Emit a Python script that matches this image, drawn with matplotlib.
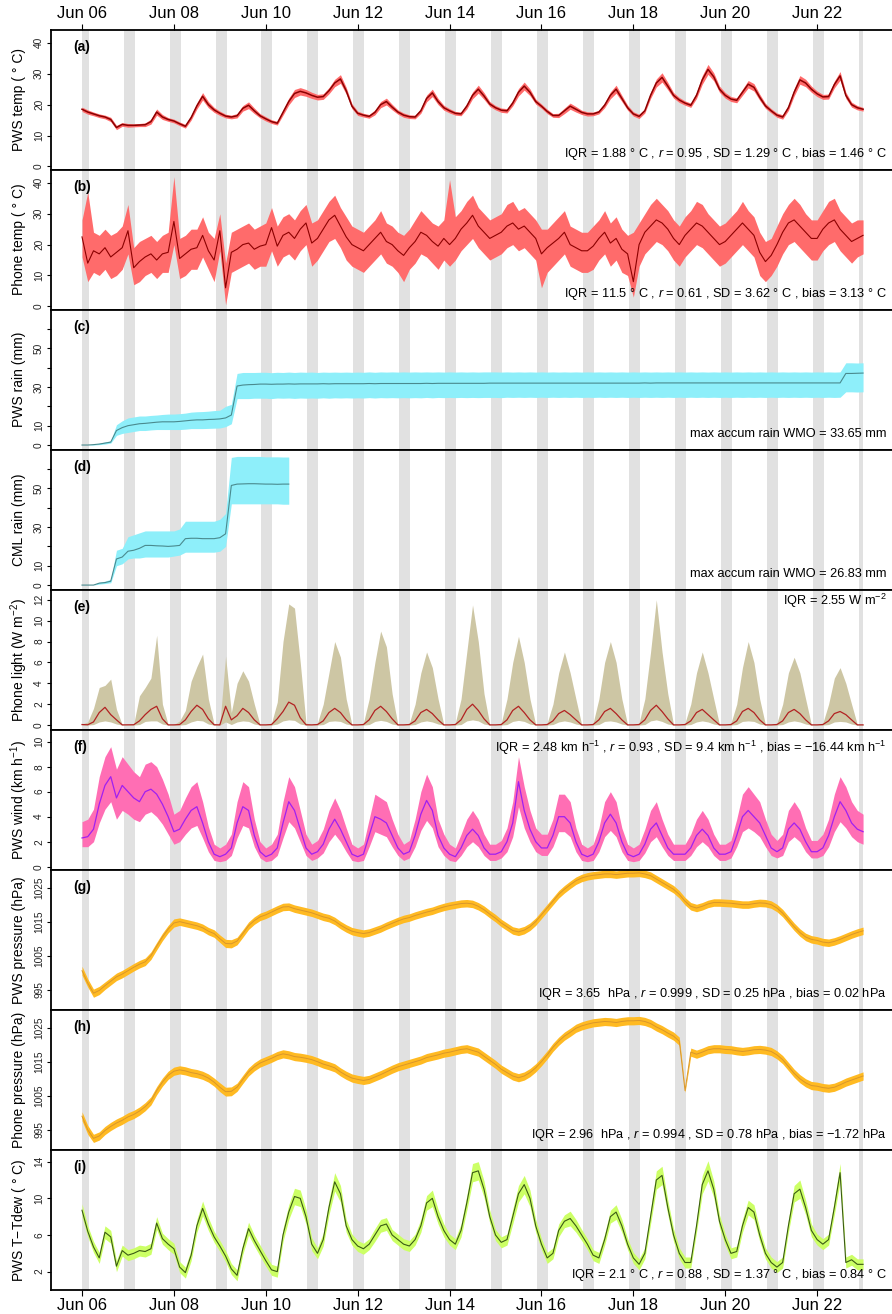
import numpy as np
import matplotlib.pyplot as plt
import matplotlib.dates as mdates
from datetime import datetime, timedelta

plt.rcParams['font.family'] = ['Liberation Sans', 'DejaVu Sans']
plt.rcParams['mathtext.fontset'] = 'custom'
plt.rcParams['mathtext.rm'] = 'Liberation Sans'
plt.rcParams['mathtext.it'] = 'Liberation Sans:italic'

# 3-hourly readings, Jun 06 00:00 .. Jun 23 00:00
start = datetime(2018, 6, 6)
times = mdates.date2num([start + timedelta(hours=3 * k) for k in range(137)])

# night shading (local time)
night_from_h = 21.75
night_to_h = 3.5

# (a) PWS temperature
a_mid = [18.5, 17.6, 17.0, 16.4, 16.0, 15.2, 12.6, 13.6,
         13.3, 13.3, 13.4, 13.5, 14.5, 17.6, 16.0, 15.2,
         14.7, 13.8, 13.0, 15.8, 19.6, 22.7, 20.0, 18.3,
         17.2, 16.3, 16.0, 16.4, 18.8, 19.8, 18.0, 16.4,
         15.4, 14.5, 14.0, 17.5, 21.0, 23.6, 24.3, 23.8,
         23.0, 22.4, 22.6, 24.5, 27.0, 28.3, 24.5, 19.5,
         17.2, 16.6, 16.2, 17.5, 20.0, 21.0, 19.2, 17.6,
         16.6, 16.1, 16.0, 18.0, 22.0, 23.8, 21.0, 19.0,
         18.0, 17.2, 17.0, 19.5, 23.0, 25.0, 22.8, 20.2,
         19.0, 18.2, 18.0, 20.5, 24.0, 26.0, 24.0, 21.0,
         19.5, 17.8, 16.5, 16.5, 18.0, 19.5, 18.5, 17.5,
         17.0, 17.0, 17.6, 19.8, 23.0, 25.0, 22.0, 19.0,
         17.0, 16.2, 18.0, 23.0, 27.0, 28.8, 26.0, 23.0,
         21.5, 20.5, 19.8, 23.0, 28.0, 31.4, 29.0, 25.0,
         23.0, 21.8, 21.4, 24.0, 26.6, 25.6, 22.4, 19.6,
         18.0, 16.6, 16.0, 19.0, 24.0, 28.0, 27.0, 25.0,
         23.5, 22.5, 22.6, 26.5, 29.3, 23.0, 20.0, 19.0,
         18.5]
a_sd = [0.7, 0.7, 0.6, 0.6, 0.6, 0.7, 0.7, 0.6,
        0.6, 0.5, 0.5, 0.6, 0.8, 1.0, 0.8, 0.6,
        0.6, 0.6, 0.6, 0.8, 1.0, 1.2, 1.0, 0.8,
        0.7, 0.6, 0.6, 0.7, 0.9, 1.1, 0.9, 0.7,
        0.7, 0.6, 0.6, 0.9, 1.1, 1.3, 1.2, 1.1,
        1.0, 0.9, 0.9, 1.0, 1.2, 1.4, 1.1, 0.8,
        0.7, 0.6, 0.6, 0.8, 1.0, 1.1, 0.9, 0.7,
        0.7, 0.6, 0.6, 0.8, 1.1, 1.2, 1.0, 0.8,
        0.7, 0.6, 0.6, 0.9, 1.1, 1.3, 1.1, 0.8,
        0.7, 0.7, 0.7, 0.9, 1.2, 1.3, 1.1, 0.8,
        0.7, 0.7, 0.6, 0.7, 0.9, 1.0, 0.9, 0.7,
        0.7, 0.6, 0.6, 0.8, 1.1, 1.3, 1.0, 0.8,
        0.7, 0.7, 0.7, 1.0, 1.3, 1.5, 1.2, 0.9,
        0.8, 0.7, 0.7, 1.0, 1.4, 1.6, 1.3, 1.0,
        0.9, 0.8, 0.8, 1.0, 1.2, 1.2, 1.0, 0.8,
        0.7, 0.7, 0.7, 0.9, 1.2, 1.4, 1.2, 1.0,
        0.9, 0.8, 0.8, 1.1, 1.4, 1.0, 0.8, 0.7,
        0.6]

# (b) phone temperature
b_mid = [22.5, 14.0, 18.0, 17.0, 19.0, 16.0, 17.5, 19.0,
         24.5, 12.5, 14.5, 16.0, 17.0, 15.0, 17.0, 17.5,
         27.5, 15.5, 17.0, 18.5, 19.0, 23.0, 18.0, 15.0,
         24.5, 6.0, 17.5, 18.5, 20.0, 20.5, 18.5, 19.5,
         20.0, 25.5, 19.5, 23.0, 24.0, 22.0, 25.0, 27.0,
         20.5, 22.0, 25.0, 28.0, 29.5, 26.0, 22.5, 20.0,
         19.0, 18.0, 20.0, 22.0, 24.0, 21.0, 20.0, 18.0,
         16.5, 19.0, 21.0, 24.0, 23.0, 21.0, 19.5, 22.0,
         20.0, 22.0, 25.0, 27.0, 29.5, 26.0, 24.0, 22.0,
         23.0, 24.0, 26.0, 27.0, 25.0, 26.0, 24.0, 22.0,
         17.0, 19.0, 20.5, 22.0, 24.0, 20.0, 19.0, 18.0,
         18.0, 19.5, 22.0, 24.0, 20.5, 22.0, 18.5, 17.0,
         8.0, 20.0, 24.0, 26.0, 28.0, 27.0, 25.0, 22.0,
         20.0, 23.0, 25.0, 27.0, 26.0, 24.0, 22.0, 20.0,
         21.0, 23.0, 25.0, 27.0, 25.0, 23.0, 17.5, 14.5,
         16.5, 20.0, 24.0, 27.0, 28.0, 26.0, 24.0, 22.0,
         22.0, 25.0, 27.0, 28.0, 25.0, 23.0, 21.0, 22.0,
         23.0]
b_lo = [16, 8, 11, 10, 12, 9, 10, 12,
        17, 7, 8, 10, 11, 9, 11, 11,
        20, 9, 10, 12, 12, 16, 12, 8,
        18, 0.5, 11, 12, 13, 14, 12, 13,
        13, 18, 13, 16, 17, 15, 18, 20,
        13, 15, 18, 21, 22, 19, 15, 13,
        12, 11, 13, 15, 17, 14, 13, 11,
        8, 12, 14, 17, 16, 14, 12, 15,
        13, 15, 18, 20, 22, 19, 17, 15,
        16, 17, 19, 20, 18, 19, 17, 15,
        6, 11, 13, 15, 17, 13, 12, 11,
        11, 12, 15, 17, 13, 15, 11, 10,
        3, 13, 17, 19, 21, 20, 18, 15,
        13, 16, 18, 20, 19, 17, 15, 13,
        14, 16, 18, 20, 18, 16, 10, 8,
        10, 13, 17, 20, 21, 19, 17, 15,
        15, 18, 20, 21, 18, 16, 14, 16,
        17]
b_hi = [28, 37, 24, 23, 25, 23, 24, 26,
        33, 19, 21, 22, 23, 21, 23, 24,
        42, 22, 23, 25, 25, 29, 24, 22,
        30, 14, 24, 25, 26, 27, 25, 26,
        27, 32, 26, 29, 30, 28, 31, 33,
        27, 28, 31, 34, 36, 32, 29, 26,
        25, 24, 26, 28, 31, 27, 26, 24,
        23, 25, 28, 31, 29, 27, 26, 28,
        41, 29, 31, 34, 36, 32, 30, 28,
        29, 30, 33, 34, 31, 32, 30, 28,
        25, 25, 27, 29, 31, 26, 25, 24,
        24, 26, 28, 31, 27, 29, 25, 23,
        24, 27, 30, 33, 35, 33, 31, 28,
        26, 29, 31, 34, 33, 30, 28, 26,
        27, 29, 31, 34, 31, 29, 24, 21,
        22, 26, 30, 33, 35, 33, 30, 28,
        28, 31, 34, 35, 31, 29, 27, 28,
        28]

# (c) PWS accumulated rain
c_mid = [0.0, 0.0, 0.2, 0.5, 1.0, 1.5, 7.5, 9.0,
         10.0, 10.5, 11.0, 11.2, 11.5, 11.8, 12.0, 12.0,
         12.0, 12.2, 12.5, 12.8, 13.0, 13.0, 13.2, 13.3,
         13.5, 14.0, 15.5, 30.5, 31.0, 31.2, 31.3, 31.5,
         31.5, 31.4, 31.5, 31.5, 31.6, 31.5, 31.6, 31.6,
         31.6, 31.6, 31.7, 31.6, 31.7, 31.7, 31.7, 31.7,
         31.7, 31.7, 31.8, 31.7, 31.8, 31.8, 31.8, 31.8,
         31.8, 31.8, 31.8, 31.8, 31.9, 31.8, 31.9, 31.9,
         31.9, 31.9, 31.9, 31.9, 31.9, 31.9, 31.9, 32.0,
         32.0, 32.0, 32.0, 32.0, 32.0, 32.0, 32.0, 32.0,
         32.0, 32.0, 32.0, 32.0, 32.0, 32.0, 32.0, 32.0,
         32.0, 32.0, 32.0, 32.0, 32.0, 32.0, 32.0, 32.0,
         32.0, 32.0, 32.1, 32.0, 32.1, 32.1, 32.1, 32.1,
         32.1, 32.1, 32.1, 32.1, 32.1, 32.1, 32.1, 32.1,
         32.1, 32.1, 32.1, 32.1, 32.1, 32.1, 32.1, 32.1,
         32.1, 32.1, 32.1, 32.1, 32.1, 32.1, 32.1, 32.1,
         32.1, 32.1, 32.1, 32.1, 32.1, 37.0, 37.0, 37.1,
         37.2]
c_lo = [0.0, 0.0, 0.0, 0.2, 0.5, 1.0, 5.0, 6.0,
        6.5, 7.0, 7.5, 7.5, 7.8, 8.0, 8.0, 8.0,
        8.0, 8.0, 8.2, 8.5, 8.5, 8.5, 8.6, 8.7,
        8.8, 9.5, 11.0, 24.0, 24.0, 24.0, 24.2, 24.2,
        24.2, 24.0, 24.3, 24.2, 24.3, 24.1, 24.3, 24.2,
        24.3, 24.2, 24.4, 24.2, 24.4, 24.3, 24.4, 24.3,
        24.4, 24.3, 24.5, 24.3, 24.5, 24.4, 24.5, 24.4,
        24.5, 24.4, 24.5, 24.4, 24.6, 24.4, 24.6, 24.5,
        24.6, 24.5, 24.6, 24.5, 24.6, 24.5, 24.6, 24.6,
        24.6, 24.5, 24.7, 24.6, 24.7, 24.6, 24.7, 24.6,
        24.7, 24.6, 24.7, 24.6, 24.7, 24.6, 24.7, 24.6,
        24.7, 24.6, 24.7, 24.6, 24.7, 24.6, 24.7, 24.6,
        24.7, 24.6, 24.7, 24.6, 24.7, 24.6, 24.7, 24.6,
        24.7, 24.6, 24.7, 24.6, 24.7, 24.6, 24.7, 24.6,
        24.7, 24.6, 24.7, 24.6, 24.7, 24.6, 24.7, 24.6,
        24.7, 24.6, 24.7, 24.6, 24.7, 24.6, 24.7, 24.6,
        24.7, 24.6, 24.7, 24.6, 24.7, 27.5, 27.5, 27.4,
        27.5]
c_hi = [0.0, 0.0, 0.4, 0.9, 1.6, 2.2, 10.5, 12.5,
        14.0, 14.5, 15.0, 15.0, 15.3, 15.5, 15.8, 16.0,
        16.0, 16.2, 16.5, 17.0, 17.2, 17.3, 17.5, 17.8,
        18.0, 20.0, 21.0, 37.0, 37.5, 37.5, 37.5, 37.6,
        37.6, 37.4, 37.6, 37.5, 37.7, 37.5, 37.7, 37.6,
        37.7, 37.5, 37.7, 37.6, 37.7, 37.6, 37.7, 37.6,
        37.7, 37.6, 37.8, 37.6, 37.8, 37.7, 37.8, 37.7,
        37.8, 37.7, 37.8, 37.7, 37.8, 37.7, 37.8, 37.7,
        37.8, 37.7, 37.8, 37.7, 37.8, 37.7, 37.8, 37.8,
        37.8, 37.7, 37.8, 37.7, 37.8, 37.7, 37.8, 37.7,
        37.8, 37.7, 37.8, 37.7, 37.8, 37.7, 37.8, 37.7,
        37.8, 37.7, 37.8, 37.7, 37.8, 37.7, 37.8, 37.7,
        37.8, 37.7, 37.8, 37.7, 37.8, 37.7, 37.8, 37.7,
        37.8, 37.7, 37.8, 37.7, 37.8, 37.7, 37.8, 37.7,
        37.8, 37.7, 37.8, 37.7, 37.8, 37.7, 37.8, 37.7,
        37.8, 37.7, 37.8, 37.7, 37.8, 37.7, 37.8, 37.7,
        37.8, 37.7, 37.8, 37.7, 37.8, 42.5, 42.5, 42.4,
        42.5]

# (d) CML accumulated rain (stops on Jun 10)
d_mid = [0.0, 0.0, 0.0, 1.0, 1.3, 2.0, 13.5, 14.5,
         17.5, 18.0, 19.0, 20.5, 20.5, 20.3, 20.2, 20.0,
         20.2, 20.5, 24.0, 24.2, 24.2, 24.0, 24.0, 24.0,
         24.5, 26.5, 51.5, 52.2, 52.3, 52.4, 52.4, 52.3,
         52.2, 52.2, 52.1, 52.2, 52.2]
d_lo = [0.0, 0.0, 0.0, 0.5, 0.8, 1.2, 10.0, 11.0,
        13.5, 14.0, 14.0, 14.5, 14.5, 14.5, 14.5, 14.5,
        15.0, 15.5, 17.0, 17.0, 17.0, 17.0, 17.0, 17.0,
        17.5, 20.0, 42.0, 42.0, 42.0, 42.0, 42.0, 42.0,
        42.0, 42.0, 42.0, 41.8, 41.8]
d_hi = [0.0, 0.0, 0.0, 1.5, 2.0, 3.0, 18.0, 19.0,
        25.0, 26.0, 27.0, 28.0, 28.0, 28.0, 28.0, 28.0,
        28.0, 29.0, 33.0, 33.0, 33.0, 33.0, 33.0, 33.0,
        34.0, 37.0, 66.0, 66.5, 66.5, 66.5, 66.5, 66.5,
        66.3, 66.3, 66.3, 66.2, 66.2]

# (e) phone light
e_mid = [0.05, 0.03, 0.30, 1.20, 1.70, 1.00, 0.50, 0.02,
         0.02, 0.03, 0.40, 1.00, 1.50, 1.80, 0.60, 0.02,
         0.02, 0.05, 0.50, 1.30, 1.90, 1.50, 0.60, 0.03,
         0.02, 1.80, 0.50, 0.90, 1.60, 1.20, 0.50, 0.02,
         0.02, 0.05, 0.60, 1.30, 2.20, 1.90, 0.70, 0.03,
         0.02, 0.05, 0.40, 1.20, 1.60, 1.20, 0.50, 0.02,
         0.02, 0.05, 0.50, 1.40, 1.80, 1.30, 0.60, 0.02,
         0.02, 0.05, 0.40, 1.20, 1.50, 1.10, 0.50, 0.02,
         0.02, 0.05, 0.50, 1.50, 2.00, 1.40, 0.60, 0.02,
         0.02, 0.05, 0.50, 1.40, 1.80, 1.20, 0.50, 0.02,
         0.02, 0.05, 0.40, 1.10, 1.40, 1.00, 0.50, 0.02,
         0.02, 0.05, 0.50, 1.30, 1.60, 1.10, 0.50, 0.02,
         0.02, 0.05, 0.50, 1.40, 1.90, 1.30, 0.60, 0.02,
         0.02, 0.05, 0.40, 1.20, 1.50, 1.00, 0.50, 0.02,
         0.02, 0.05, 0.40, 1.30, 1.60, 1.20, 0.50, 0.02,
         0.02, 0.05, 0.40, 1.20, 1.50, 1.10, 0.50, 0.02,
         0.02, 0.05, 0.40, 1.10, 1.30, 1.00, 0.50, 0.02,
         0.02]
e_lo = [0.0, 0.0, 0.05, 0.30, 0.40, 0.30, 0.10, 0.0,
        0.0, 0.0, 0.05, 0.35, 0.40, 0.40, 0.10, 0.0,
        0.0, 0.0, 0.05, 0.30, 0.45, 0.40, 0.10, 0.0,
        0.0, 0.30, 0.05, 0.30, 0.40, 0.35, 0.10, 0.0,
        0.0, 0.0, 0.10, 0.40, 0.50, 0.45, 0.10, 0.0,
        0.0, 0.0, 0.05, 0.35, 0.40, 0.35, 0.10, 0.0,
        0.0, 0.0, 0.05, 0.35, 0.45, 0.35, 0.10, 0.0,
        0.0, 0.0, 0.05, 0.30, 0.40, 0.30, 0.10, 0.0,
        0.0, 0.0, 0.05, 0.40, 0.50, 0.40, 0.10, 0.0,
        0.0, 0.0, 0.05, 0.35, 0.45, 0.35, 0.10, 0.0,
        0.0, 0.0, 0.05, 0.30, 0.40, 0.30, 0.10, 0.0,
        0.0, 0.0, 0.05, 0.35, 0.40, 0.30, 0.10, 0.0,
        0.0, 0.0, 0.05, 0.40, 0.50, 0.35, 0.10, 0.0,
        0.0, 0.0, 0.05, 0.30, 0.40, 0.30, 0.10, 0.0,
        0.0, 0.0, 0.05, 0.35, 0.40, 0.35, 0.10, 0.0,
        0.0, 0.0, 0.05, 0.30, 0.40, 0.30, 0.10, 0.0,
        0.0, 0.0, 0.05, 0.30, 0.35, 0.30, 0.10, 0.0,
        0.0]
e_hi = [0.10, 0.30, 1.60, 3.60, 3.80, 4.40, 1.50, 0.05,
        0.05, 0.10, 2.80, 3.60, 4.50, 8.60, 2.00, 0.05,
        0.05, 0.40, 1.40, 4.20, 5.60, 6.80, 2.50, 0.10,
        0.05, 6.60, 1.20, 4.00, 5.20, 4.20, 2.00, 0.05,
        0.05, 0.20, 2.20, 8.00, 11.6, 11.2, 6.00, 0.20,
        0.05, 0.20, 2.00, 5.00, 8.00, 6.50, 2.50, 0.05,
        0.05, 0.20, 2.50, 6.00, 9.00, 7.50, 3.00, 0.05,
        0.05, 0.20, 2.00, 5.00, 7.00, 5.50, 2.50, 0.05,
        0.05, 0.20, 2.50, 7.00, 11.5, 8.00, 3.00, 0.05,
        0.05, 0.20, 2.50, 6.00, 8.50, 6.00, 2.50, 0.05,
        0.05, 0.20, 2.00, 5.00, 7.00, 5.00, 2.50, 0.05,
        0.05, 0.20, 2.50, 6.00, 8.00, 6.00, 2.50, 0.05,
        0.05, 0.20, 2.50, 7.00, 12.0, 7.00, 3.00, 0.05,
        0.05, 0.20, 2.00, 5.00, 7.00, 5.00, 2.50, 0.05,
        0.05, 0.20, 2.00, 5.50, 8.00, 6.00, 2.50, 0.05,
        0.05, 0.20, 2.00, 5.00, 6.50, 5.00, 2.50, 0.05,
        0.05, 0.20, 2.00, 4.50, 5.50, 4.00, 2.00, 0.05,
        0.05]

# (f) PWS wind
f_mid = [2.3, 2.4, 3.0, 5.0, 6.5, 7.2, 5.5, 6.5,
         6.0, 5.5, 5.2, 6.0, 6.2, 5.8, 5.0, 4.0,
         2.8, 3.0, 3.8, 4.5, 4.8, 3.5, 2.0, 1.0,
         0.8, 1.0, 1.5, 3.5, 4.8, 4.5, 2.5, 1.2,
         0.8, 1.0, 1.5, 3.5, 5.2, 4.5, 3.0, 1.5,
         1.0, 1.2, 1.8, 3.0, 3.8, 3.0, 2.0, 1.0,
         0.8, 1.0, 2.5, 4.0, 3.8, 3.5, 2.5, 1.5,
         1.0, 1.2, 2.5, 4.2, 5.3, 4.5, 2.5, 1.5,
         1.0, 0.8, 1.5, 2.5, 3.0, 2.5, 1.5, 1.0,
         1.0, 1.2, 2.0, 3.5, 6.8, 4.5, 3.0, 2.0,
         1.5, 1.5, 2.5, 4.0, 4.0, 3.5, 2.0, 1.0,
         0.8, 1.0, 2.0, 3.5, 4.2, 3.5, 2.0, 1.0,
         0.8, 1.0, 1.8, 3.0, 3.5, 2.5, 1.5, 1.0,
         1.0, 1.0, 1.5, 2.5, 3.0, 2.5, 1.5, 1.0,
         1.0, 1.2, 2.5, 4.0, 4.5, 4.0, 3.5, 2.5,
         1.5, 1.2, 1.5, 3.0, 3.5, 3.0, 2.0, 1.2,
         1.2, 1.5, 2.5, 4.0, 5.2, 4.5, 3.5, 3.0,
         2.8]
f_lo = [1.6, 1.6, 2.0, 3.5, 4.6, 5.2, 3.8, 4.5,
        4.2, 3.8, 3.6, 4.2, 4.4, 4.0, 3.4, 2.6,
        1.8, 2.0, 2.6, 3.1, 3.3, 2.3, 1.2, 0.5,
        0.4, 0.5, 0.9, 2.3, 3.3, 3.1, 1.6, 0.7,
        0.4, 0.5, 0.9, 2.3, 3.6, 3.1, 2.0, 0.9,
        0.5, 0.7, 1.1, 2.0, 2.6, 2.0, 1.2, 0.5,
        0.4, 0.5, 1.6, 2.8, 2.6, 2.4, 1.6, 0.9,
        0.5, 0.7, 1.6, 2.9, 3.7, 3.1, 1.6, 0.9,
        0.5, 0.4, 0.9, 1.6, 2.0, 1.6, 0.9, 0.5,
        0.5, 0.7, 1.2, 2.4, 4.8, 3.1, 2.0, 1.2,
        0.9, 0.9, 1.6, 2.8, 2.8, 2.4, 1.2, 0.5,
        0.4, 0.5, 1.2, 2.4, 2.9, 2.4, 1.2, 0.5,
        0.4, 0.5, 1.1, 2.0, 2.4, 1.6, 0.9, 0.5,
        0.5, 0.5, 0.9, 1.6, 2.0, 1.6, 0.9, 0.5,
        0.5, 0.7, 1.6, 2.8, 3.1, 2.8, 2.4, 1.6,
        0.9, 0.7, 0.9, 2.0, 2.4, 2.0, 1.2, 0.7,
        0.7, 0.9, 1.6, 2.8, 3.6, 3.1, 2.4, 2.0,
        1.8]
f_hi = [3.6, 3.8, 4.6, 7.2, 8.8, 9.6, 7.8, 8.8,
        8.2, 7.6, 7.2, 8.2, 8.4, 8.0, 7.0, 5.8,
        4.2, 4.5, 5.5, 6.4, 6.8, 5.2, 3.2, 1.8,
        1.5, 1.8, 2.6, 5.2, 6.8, 6.4, 3.8, 2.0,
        1.5, 1.8, 2.6, 5.2, 7.2, 6.4, 4.5, 2.6,
        1.8, 2.1, 3.0, 4.5, 5.5, 4.5, 3.1, 1.8,
        1.5, 1.8, 3.8, 5.8, 5.5, 5.2, 3.8, 2.6,
        1.8, 2.1, 3.8, 6.0, 7.4, 6.4, 3.8, 2.6,
        1.8, 1.5, 2.6, 3.8, 4.5, 3.8, 2.6, 1.8,
        1.8, 2.1, 3.1, 5.2, 8.8, 6.4, 4.5, 3.1,
        2.6, 2.6, 3.8, 5.8, 5.8, 5.2, 3.1, 1.8,
        1.5, 1.8, 3.1, 5.2, 6.0, 5.2, 3.1, 1.8,
        1.5, 1.8, 3.0, 4.5, 5.2, 3.8, 2.6, 1.8,
        1.8, 1.8, 2.6, 3.8, 4.5, 3.8, 2.6, 1.8,
        1.8, 2.1, 3.8, 5.8, 6.4, 5.8, 5.2, 3.8,
        2.6, 2.1, 2.6, 4.5, 5.2, 4.5, 3.1, 2.1,
        2.1, 2.6, 3.8, 5.8, 7.2, 6.4, 5.2, 4.5,
        4.2]

# (g) PWS pressure
g_mid = [1000.6, 997.0, 994.0, 994.8, 996.2, 997.5, 998.8, 999.6,
         1000.6, 1001.6, 1002.5, 1003.2, 1005.0, 1007.8, 1010.5, 1012.8,
         1014.6, 1015.0, 1014.6, 1014.2, 1013.8, 1013.2, 1012.2, 1011.5,
         1010.0, 1008.6, 1008.5, 1009.3, 1011.5, 1013.8, 1015.3, 1016.4,
         1017.0, 1017.8, 1018.6, 1019.3, 1019.4, 1018.8, 1018.4, 1018.0,
         1017.6, 1017.0, 1016.4, 1016.0, 1015.2, 1014.0, 1013.0, 1012.2,
         1011.8, 1011.5, 1011.8, 1012.4, 1013.0, 1013.8, 1014.5, 1015.2,
         1015.8, 1016.2, 1016.8, 1017.3, 1017.8, 1018.2, 1018.8, 1019.3,
         1019.7, 1020.0, 1020.3, 1020.4, 1020.2, 1019.5, 1018.5, 1017.2,
         1016.0, 1014.6, 1013.5, 1012.4, 1012.0, 1012.5, 1013.5, 1015.0,
         1017.0, 1019.0, 1021.0, 1023.0, 1024.5, 1025.8, 1027.0, 1027.8,
         1028.3, 1028.6, 1028.8, 1029.0, 1029.0, 1028.8, 1029.0, 1029.2,
         1029.2, 1029.3, 1029.0, 1028.5, 1027.5, 1026.5, 1025.5, 1024.5,
         1023.0, 1021.0, 1019.5, 1019.0, 1019.5, 1020.2, 1020.6, 1020.6,
         1020.5, 1020.4, 1020.2, 1020.0, 1020.0, 1020.3, 1020.5, 1020.4,
         1020.0, 1019.0, 1017.5, 1015.5, 1013.5, 1011.8, 1010.5, 1009.8,
         1009.5, 1009.0, 1008.8, 1009.2, 1009.8, 1010.5, 1011.2, 1011.8,
         1012.3]
g_sd = [1.3, 1.2, 1.2, 1.2, 1.1, 1.1, 1.1, 1.1,
        1.1, 1.1, 1.1, 1.1, 1.1, 1.1, 1.1, 1.1,
        1.2, 1.1, 1.1, 1.1, 1.1, 1.1, 1.1, 1.1,
        1.1, 1.2, 1.2, 1.1, 1.1, 1.1, 1.1, 1.1,
        1.1, 1.1, 1.1, 1.1, 1.1, 1.1, 1.1, 1.1,
        1.1, 1.1, 1.1, 1.1, 1.1, 1.1, 1.1, 1.1,
        1.1, 1.1, 1.1, 1.1, 1.1, 1.1, 1.1, 1.1,
        1.1, 1.1, 1.1, 1.1, 1.1, 1.1, 1.1, 1.1,
        1.1, 1.1, 1.1, 1.1, 1.1, 1.1, 1.1, 1.1,
        1.1, 1.1, 1.1, 1.1, 1.1, 1.1, 1.1, 1.1,
        1.1, 1.1, 1.1, 1.1, 1.1, 1.1, 1.1, 1.1,
        1.1, 1.1, 1.1, 1.1, 1.1, 1.1, 1.1, 1.1,
        1.1, 1.1, 1.1, 1.1, 1.1, 1.1, 1.1, 1.1,
        1.1, 1.1, 1.1, 1.1, 1.1, 1.1, 1.1, 1.1,
        1.1, 1.1, 1.1, 1.1, 1.1, 1.1, 1.1, 1.1,
        1.1, 1.1, 1.1, 1.1, 1.1, 1.1, 1.1, 1.1,
        1.1, 1.1, 1.1, 1.1, 1.1, 1.1, 1.1, 1.1,
        1.1]

# (h) phone pressure
h_mid = [999.0, 995.0, 992.5, 993.2, 994.8, 996.0, 997.0, 997.8,
         998.8, 999.5, 1000.5, 1001.8, 1003.5, 1006.5, 1009.0, 1011.0,
         1012.2, 1012.6, 1012.3, 1011.8, 1011.5, 1011.0, 1010.2, 1009.0,
         1007.5, 1006.2, 1006.3, 1007.5, 1009.8, 1012.0, 1013.5, 1014.6,
         1015.3, 1016.0, 1016.8, 1017.3, 1017.0, 1016.5, 1016.3, 1016.0,
         1015.6, 1015.0, 1014.3, 1013.8, 1013.2, 1012.0, 1011.0, 1010.2,
         1009.8, 1009.5, 1009.8, 1010.5, 1011.2, 1012.0, 1012.8, 1013.5,
         1014.0, 1014.5, 1015.0, 1015.5, 1016.2, 1016.6, 1017.0, 1017.5,
         1017.8, 1018.2, 1018.6, 1018.8, 1018.3, 1017.8, 1016.6, 1015.4,
         1014.2, 1012.8, 1011.8, 1010.8, 1010.3, 1010.8, 1011.8, 1013.2,
         1015.0, 1017.0, 1019.2, 1021.0, 1022.5, 1023.6, 1024.8, 1025.5,
         1026.0, 1026.4, 1026.6, 1026.8, 1026.7, 1026.5, 1026.8, 1027.0,
         1027.0, 1027.1, 1026.8, 1026.2, 1025.2, 1024.4, 1023.4, 1022.5,
         1021.0, 1006.5, 1017.8, 1017.2, 1017.8, 1018.5, 1018.8, 1018.8,
         1018.6, 1018.5, 1018.2, 1018.0, 1018.2, 1018.5, 1018.6, 1018.4,
         1018.0, 1017.0, 1015.6, 1013.6, 1011.6, 1010.0, 1008.8, 1008.0,
         1007.8, 1007.4, 1007.2, 1007.5, 1008.2, 1009.0, 1009.6, 1010.2,
         1010.8]
h_sd = [1.3, 1.3, 1.2, 1.2, 1.2, 1.2, 1.2, 1.2,
        1.2, 1.2, 1.2, 1.2, 1.2, 1.2, 1.2, 1.2,
        1.2, 1.2, 1.2, 1.2, 1.2, 1.2, 1.2, 1.2,
        1.3, 1.3, 1.3, 1.2, 1.2, 1.2, 1.2, 1.2,
        1.2, 1.2, 1.2, 1.2, 1.2, 1.2, 1.2, 1.2,
        1.2, 1.2, 1.2, 1.2, 1.2, 1.2, 1.2, 1.2,
        1.2, 1.2, 1.2, 1.2, 1.2, 1.2, 1.2, 1.2,
        1.2, 1.2, 1.2, 1.2, 1.2, 1.2, 1.2, 1.2,
        1.2, 1.2, 1.2, 1.2, 1.2, 1.2, 1.2, 1.2,
        1.2, 1.2, 1.2, 1.2, 1.2, 1.2, 1.2, 1.2,
        1.2, 1.2, 1.2, 1.2, 1.2, 1.2, 1.2, 1.2,
        1.2, 1.2, 1.2, 1.2, 1.2, 1.2, 1.2, 1.2,
        1.2, 1.2, 1.2, 1.2, 1.2, 1.2, 1.2, 1.2,
        1.2, 0.5, 1.2, 1.2, 1.2, 1.2, 1.2, 1.2,
        1.2, 1.2, 1.2, 1.2, 1.2, 1.2, 1.2, 1.2,
        1.2, 1.2, 1.2, 1.2, 1.2, 1.2, 1.2, 1.2,
        1.2, 1.2, 1.2, 1.2, 1.2, 1.2, 1.2, 1.2,
        1.2]

# (i) PWS T - Tdew
i_mid = [8.7, 6.4, 4.7, 3.5, 6.3, 5.8, 2.6, 4.3,
         3.8, 4.0, 4.3, 4.2, 4.5, 7.3, 5.6, 5.0,
         4.5, 2.5, 1.9, 3.8, 7.0, 8.9, 7.2, 5.8,
         4.8, 3.7, 2.3, 1.6, 4.5, 6.7, 5.4, 4.3,
         3.2, 2.2, 2.0, 6.0, 8.5, 10.2, 10.0, 8.0,
         5.0, 4.0, 5.5, 9.0, 11.8, 10.5, 7.0, 5.5,
         4.8, 4.5, 5.0, 6.0, 7.0, 7.2, 6.0, 5.5,
         5.0, 4.8, 5.5, 7.0, 9.5, 10.0, 8.0, 6.5,
         5.5, 5.0, 6.5, 9.5, 12.8, 13.0, 11.0, 8.0,
         6.0, 5.2, 5.5, 8.0, 10.5, 11.5, 10.0, 7.0,
         5.0, 3.5, 4.0, 6.5, 7.5, 7.8, 7.0, 6.0,
         5.0, 3.8, 3.5, 5.5, 8.0, 8.5, 7.0, 5.0,
         3.5, 2.8, 4.0, 8.0, 12.0, 12.5, 9.0, 6.0,
         4.0, 3.0, 3.0, 7.0, 11.5, 13.0, 11.0, 7.5,
         5.5, 4.0, 4.2, 7.0, 9.0, 8.5, 6.0, 4.0,
         3.0, 2.5, 3.0, 7.0, 10.5, 11.0, 9.0, 6.5,
         5.5, 5.0, 5.5, 9.0, 12.8, 3.0, 3.3, 2.8,
         2.8]
i_sd = [0.7, 0.6, 0.6, 0.6, 0.7, 0.7, 0.6, 0.6,
        0.6, 0.6, 0.6, 0.6, 0.6, 0.7, 0.6, 0.6,
        0.6, 0.6, 0.6, 0.6, 0.7, 0.8, 0.7, 0.6,
        0.6, 0.6, 0.6, 0.6, 0.6, 0.7, 0.6, 0.6,
        0.6, 0.6, 0.6, 0.7, 0.8, 0.9, 0.9, 0.8,
        0.7, 0.6, 0.7, 0.8, 1.0, 0.9, 0.7, 0.6,
        0.6, 0.6, 0.6, 0.7, 0.7, 0.7, 0.6, 0.6,
        0.6, 0.6, 0.6, 0.7, 0.8, 0.9, 0.8, 0.7,
        0.6, 0.6, 0.7, 0.8, 1.0, 1.0, 0.9, 0.7,
        0.6, 0.6, 0.6, 0.8, 0.9, 1.0, 0.9, 0.7,
        0.6, 0.6, 0.6, 0.7, 0.7, 0.8, 0.7, 0.6,
        0.6, 0.6, 0.6, 0.6, 0.7, 0.8, 0.7, 0.6,
        0.6, 0.6, 0.6, 0.8, 1.0, 1.0, 0.8, 0.7,
        0.6, 0.6, 0.6, 0.7, 1.0, 1.1, 0.9, 0.7,
        0.6, 0.6, 0.6, 0.7, 0.8, 0.8, 0.7, 0.6,
        0.6, 0.6, 0.6, 0.7, 0.9, 1.0, 0.8, 0.7,
        0.6, 0.6, 0.6, 0.8, 1.0, 0.6, 0.6, 0.6,
        0.6]

ylabels = ['PWS temp ( ° C)', 'Phone temp ( ° C)', 'PWS rain (mm)', 'CML rain (mm)',
           'Phone light (W m$^{-2}$)', 'PWS wind (km h$^{-1}$)', 'PWS pressure (hPa)',
           'Phone pressure (hPa)', 'PWS T$-$Tdew ( ° C)']
stats = ['IQR = 1.88 ° C , $r$ = 0.95 , SD = 1.29 ° C , bias = 1.46 ° C',
         'IQR = 11.5 ° C , $r$ = 0.61 , SD = 3.62 ° C , bias = 3.13 ° C',
         'max accum rain WMO = 33.65 mm',
         'max accum rain WMO = 26.83 mm',
         'IQR = 2.55 W m$^{-2}$',
         'IQR = 2.48 km h$^{-1}$ , $r$ = 0.93 , SD = 9.4 km h$^{-1}$ , bias = $-$16.44 km h$^{-1}$',
         'IQR = 3.65  hPa , $r$ = 0.999 , SD = 0.25 hPa , bias = 0.02 hPa',
         'IQR = 2.96  hPa , $r$ = 0.994 , SD = 0.78 hPa , bias = $-$1.72 hPa',
         'IQR = 2.1 ° C , $r$ = 0.88 , SD = 1.37 ° C , bias = 0.84 ° C']

a_mid, a_sd = np.array(a_mid), np.array(a_sd)
g_mid, g_sd = np.array(g_mid), np.array(g_sd)
h_mid, h_sd = np.array(h_mid), np.array(h_sd)
i_mid, i_sd = np.array(i_mid), np.array(i_sd)

# (mid, lo, hi, band colour, line colour, line width)
panels = [
    (a_mid, a_mid - a_sd, a_mid + a_sd, '#ff6b6b', '#8b0000', 1.1),
    (b_mid, b_lo, b_hi, '#ff6b6b', '#8b0000', 0.8),
    (c_mid, c_lo, c_hi, '#8eeffa', '#4a8a8e', 0.8),
    (d_mid, d_lo, d_hi, '#8eeffa', '#4a8a8e', 0.8),
    (e_mid, e_lo, e_hi, '#cdc6a4', '#b22222', 0.9),
    (f_mid, f_lo, f_hi, '#ff6eb4', '#a020f0', 0.9),
    (g_mid, g_mid - g_sd, g_mid + g_sd, '#ffba22', '#d9962b', 0.7),
    (h_mid, h_mid - h_sd, h_mid + h_sd, '#ffba22', '#d9962b', 0.7),
    (i_mid, i_mid - i_sd, i_mid + i_sd, '#ccff66', '#3a5a14', 0.8),
]
ylims = [(-1, 44.3), (-1.05, 44.3), (-2.4, 70), (-2.4, 70), (-0.45, 12.96),
         (-0.25, 10.95), (989.1, 1030.2), (989.1, 1030.2), (0.0, 15.28)]
yticks = [[0, 10, 20, 30, 40], [0, 10, 20, 30, 40], range(0, 70, 10), range(0, 70, 10),
          range(0, 13, 2), range(0, 11, 2), [995, 1005, 1015, 1025], [995, 1005, 1015, 1025],
          [2, 6, 10, 14]]
letters = ['(a)', '(b)', '(c)', '(d)', '(e)', '(f)', '(g)', '(h)', '(i)']

fig = plt.figure(figsize=(8.92, 13.14), dpi=100)
axes = fig.subplots(9, 1, sharex=True, gridspec_kw=dict(hspace=0))
fig.subplots_adjust(left=51 / 892, right=1.0, top=1 - 29.5 / 1314, bottom=1 - 1290 / 1314)

t0 = times[0]
for n, ax in enumerate(axes):
    mid, lo, hi, fc, lc, lw = panels[n]
    tt = times[:len(mid)]

    for day in range(-1, 17):
        x0 = max(t0 + day + night_from_h / 24, t0)
        x1 = min(t0 + day + 1 + night_to_h / 24, times[-1])
        ax.axvspan(x0, x1, color='#e1e1e1', lw=0, zorder=0)

    ax.fill_between(tt, lo, hi, color=fc, lw=0, zorder=1)
    ax.plot(tt, mid, color=lc, lw=lw, zorder=2)

    ax.set_ylim(*ylims[n])
    ax.set_yticks(list(yticks[n]))
    if n in (2, 3):
        ax.set_yticklabels(['0', '10', '', '30', '', '50', ''])
    ax.tick_params(axis='y', labelrotation=90, labelsize=7.3, length=3, width=0.8,
                   pad=2, labelcolor='#222222')
    for lab in ax.get_yticklabels():
        lab.set_va('center')
    ax.set_ylabel(ylabels[n], fontsize=10, va='center')
    ax.yaxis.set_label_coords(-0.038, 0.5)

    for side in ('top', 'bottom', 'left'):
        ax.spines[side].set_linewidth(1.3)
    ax.spines['right'].set_visible(False)

    ax.text(0.0268, 0.875, letters[n], transform=ax.transAxes, fontsize=10,
            fontweight='bold', va='center', ha='left')
    if n == 4:
        ax.text(0.994, 0.92, stats[n], transform=ax.transAxes, fontsize=9.2,
                ha='right', va='center')
    elif n == 5:
        ax.text(0.994, 0.87, stats[n], transform=ax.transAxes, fontsize=9.2,
                ha='right', va='center')
    else:
        ax.text(0.994, 0.11, stats[n], transform=ax.transAxes, fontsize=9.2,
                ha='right', va='center')

    ax.tick_params(axis='x', which='both', bottom=False, top=False,
                   labelbottom=False, labeltop=False)

axes[0].tick_params(axis='x', top=True, labeltop=True, length=4, width=0.8, labelsize=12, pad=2)
axes[-1].tick_params(axis='x', bottom=True, labelbottom=True, length=4, width=0.8, labelsize=12, pad=2)
axes[-1].xaxis.set_major_locator(mdates.DayLocator(bymonthday=range(2, 31, 2)))
axes[-1].xaxis.set_major_formatter(mdates.DateFormatter('%b %d'))
axes[-1].set_xlim(t0 - 0.675, t0 + 17.63)

plt.savefig('out.png', dpi=100)
